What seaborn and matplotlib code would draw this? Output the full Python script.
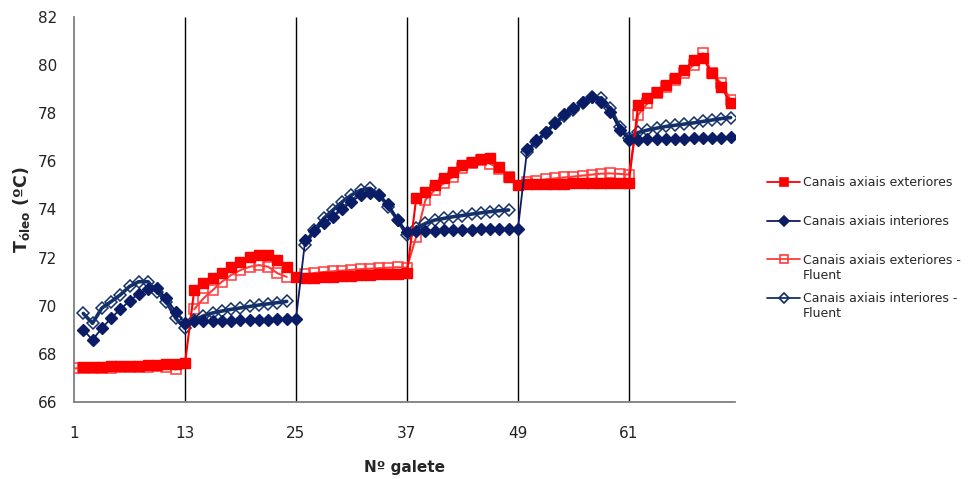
import numpy as np
import pandas as pd
import matplotlib
matplotlib.use("Agg")
import matplotlib.pyplot as plt
from matplotlib.lines import Line2D
import seaborn as sns

nan = np.nan

# ---------------- data ----------------
galete = list(range(1, 73))
x_ticks = [1, 13, 25, 37, 49, 61]
group_limits = [13, 25, 37, 49, 61]
y_ticks = [66, 68, 70, 72, 74, 76, 78, 80, 82]

ext = ([nan] +
       [67.45, 67.46, 67.47, 67.48, 67.49, 67.50, 67.51, 67.52, 67.54, 67.56, 67.58, 67.60] +
       [70.65, 70.93, 71.14, 71.37, 71.62, 71.83, 72.04, 72.10, 72.10, 71.90, 71.62, 71.20] +
       [71.15, 71.17, 71.19, 71.21, 71.23, 71.25, 71.27, 71.29, 71.30, 71.32, 71.33, 71.35] +
       [74.46, 74.74, 75.02, 75.30, 75.57, 75.85, 75.99, 76.08, 76.13, 75.78, 75.36, 75.02] +
       [75.05, 75.06, 75.07, 75.07, 75.08, 75.09, 75.10, 75.10, 75.11, 75.11, 75.12, 75.12] +
       [78.34, 78.62, 78.90, 79.17, 79.45, 79.80, 80.20, 80.28, 79.66, 79.10, 78.41])

inte = ([nan] +
        [69.00, 68.58, 69.06, 69.48, 69.85, 70.20, 70.50, 70.68, 70.72, 70.31, 69.75, 69.27] +
        [69.35, 69.36, 69.37, 69.38, 69.38, 69.39, 69.40, 69.41, 69.42, 69.43, 69.44, 69.45] +
        [72.73, 73.12, 73.42, 73.70, 74.00, 74.32, 74.60, 74.70, 74.60, 74.23, 73.56, 73.08] +
        [73.10, 73.11, 73.12, 73.13, 73.14, 73.15, 73.16, 73.17, 73.18, 73.19, 73.20, 73.20] +
        [76.50, 76.89, 77.23, 77.60, 77.97, 78.20, 78.48, 78.69, 78.48, 78.07, 77.30, 76.89] +
        [76.90, 76.91, 76.92, 76.93, 76.94, 76.95, 76.96, 76.97, 76.98, 76.99, 77.00])

ext_fluent = ([67.40, 67.40, 67.41, 67.42, 67.43, 67.44, 67.45, 67.46, 67.47, 67.48, 67.45, 67.35] +
              [nan] +
              [69.85, 70.31, 70.65, 71.00, 71.28, 71.48, 71.62, 71.69, 71.62, 71.35, 71.20] +
              [nan] +
              [71.30, 71.36, 71.40, 71.43, 71.46, 71.49, 71.52, 71.54, 71.56, 71.58, 71.60, 71.58] +
              [72.87, 74.40, 74.81, 75.09, 75.36, 75.71, 75.92, 76.06, 75.90, 75.70, 75.36] +
              [nan] +
              [75.15, 75.20, 75.25, 75.29, 75.33, 75.37, 75.41, 75.45, 75.49, 75.50, 75.48, 75.45] +
              [77.93, 78.41, 78.83, 79.10, 79.38, 79.66, 80.00, 80.49, 79.66, 79.24, 78.55])

int_fluent = ([nan] +
              [69.68, 69.27, 69.90, 70.17, 70.45, 70.80, 71.00, 71.00, 70.58, 70.17, 69.48, 69.06] +
              [69.40, 69.58, 69.70, 69.78, 69.85, 69.91, 69.97, 70.03, 70.08, 70.13, 70.18] +
              [nan] +
              [72.52, 73.15, 73.63, 73.98, 74.32, 74.60, 74.81, 74.88, 74.60, 74.12, 73.56, 72.94] +
              [73.22, 73.42, 73.56, 73.63, 73.70, 73.75, 73.81, 73.86, 73.91, 73.95, 73.98] +
              [nan] +
              [76.40, 76.82, 77.19, 77.58, 77.89, 78.13, 78.41, 78.69, 78.62, 78.20, 77.44, 76.96] +
              [77.20, 77.30, 77.38, 77.45, 77.50, 77.55, 77.60, 77.66, 77.72, 77.78, 77.82])

labels = ["Canais axiais exteriores",
          "Canais axiais interiores",
          "Canais axiais exteriores -",
          "Canais axiais interiores -"]
label_second_lines = ["", "", "Fluent", "Fluent"]

# ---------------- style ----------------
sns.set_style("white")
plt.rcParams['font.family'] = ['DejaVu Sans']
plt.rcParams['mathtext.fontset'] = 'dejavusans'

RED = "#FF0000"
RED_F = "#FF3B3B"
NAVY = "#0B1C66"
NAVY_F = "#14306B"

styles = [
    dict(color=RED, lw=1.5, marker='s', markersize=7.5, markerfacecolor=RED,
         markeredgecolor=RED, markeredgewidth=1, zorder=5),
    dict(color=NAVY, lw=1.3, marker='D', markersize=6.3, markerfacecolor=NAVY,
         markeredgecolor=NAVY, markeredgewidth=1, zorder=6),
    dict(color=RED_F, lw=1.5, marker='s', markersize=7.8, markerfacecolor='none',
         markeredgecolor=RED_F, markeredgewidth=1.1, zorder=3),
    dict(color=NAVY_F, lw=2.6, marker='D', markersize=6.5, markerfacecolor='none',
         markeredgecolor=NAVY_F, markeredgewidth=1.1, zorder=4),
]
all_series = [ext, inte, ext_fluent, int_fluent]

fig = plt.figure(figsize=(9.7, 4.79), dpi=100)
ax = fig.add_axes([0.0763, 0.1608, 0.6817, 0.8037])

for vals, st in zip(all_series, styles):
    df = pd.DataFrame({'galete': galete, 'T': vals})
    df['seg'] = df['T'].isna().cumsum()
    df = df.dropna()
    for _, sub in df.groupby('seg'):
        sns.lineplot(data=sub, x='galete', y='T', ax=ax, legend=False,
                     estimator=None, **st)

ax.vlines(group_limits, y_ticks[0], y_ticks[-1], colors='black', lw=1.0, zorder=1)

ax.set_xlim(1, 72.5)
ax.set_ylim(y_ticks[0], y_ticks[-1])
ax.set_xticks(x_ticks)
ax.set_yticks(y_ticks)
ax.tick_params(axis='both', length=0, labelsize=11, colors='#222222')
ax.tick_params(axis='x', pad=17)
ax.tick_params(axis='y', pad=12)
for s in ['top', 'right']:
    ax.spines[s].set_visible(False)
for s in ['left', 'bottom']:
    ax.spines[s].set_color('#7f7f7f')
    ax.spines[s].set_linewidth(1.3)
ax.grid(False)

ax.set_xlabel("Nº galete", fontsize=11, fontweight='bold', labelpad=14)
ax.set_ylabel(r"$\mathbf{T}_{\mathbf{óleo}}$ (ºC)", fontsize=12.5, fontweight='bold', labelpad=4)

handles = []
for st in styles:
    h = Line2D([], [], color=st['color'], lw=1.3, marker=st['marker'],
               markersize=st['markersize'] * 0.75,
               markerfacecolor=st['markerfacecolor'], markeredgecolor=st['markeredgecolor'],
               markeredgewidth=1.2)
    handles.append(h)
LEG_FS = 9
leg = fig.legend(handles, labels, loc='upper left', bbox_to_anchor=(0.791, 0.632),
                 frameon=False, fontsize=LEG_FS, handlelength=2.6, handletextpad=0.25,
                 labelspacing=2.05, borderaxespad=0, borderpad=0)

# second line of the wrapped legend labels
fig.canvas.draw()
inv = fig.transFigure.inverted()
for txt, extra in zip(leg.get_texts(), label_second_lines):
    if extra:
        bb = txt.get_window_extent()
        x0, y0 = inv.transform((bb.x0, bb.y0))
        fig.text(x0, y0 - 2.0 / 479, extra, fontsize=LEG_FS, ha='left', va='top',
                 color=txt.get_color())

fig.savefig("out.png", dpi=100)
